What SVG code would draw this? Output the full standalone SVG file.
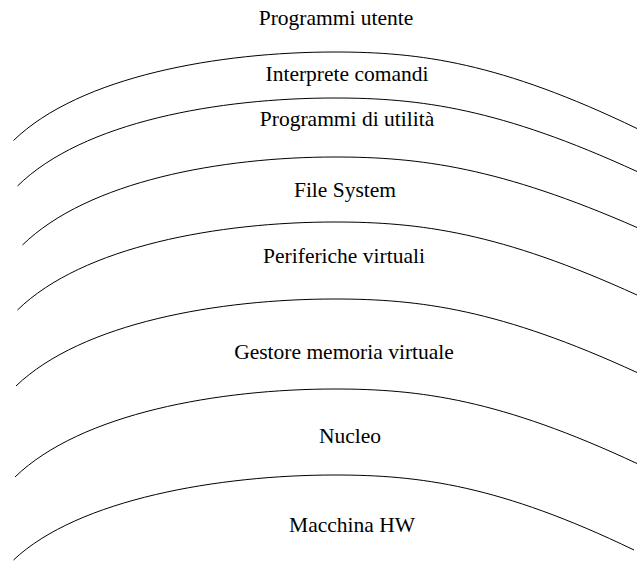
<svg xmlns="http://www.w3.org/2000/svg" width="637" height="561" viewBox="0 0 637 561">
  <defs>
    <style>
      .layer { fill: none; stroke: #000; stroke-width: 1; }
      .lbl { font-family: "Liberation Serif", "Times New Roman", serif; font-size: 21.5px; fill: #000; text-anchor: middle; }
    </style>
  </defs>
  <rect width="637" height="561" fill="#fff"/>
  <!-- layer boundaries: steep rise on the left, flat crest near x=335, gentler fall to the right -->
  <g id="connectors">
    <path class="layer" d="M 13.5 140.5 C 80 76, 220 52, 335 52 C 420 52, 500 62.5, 637 128.5"/>
    <path class="layer" d="M 17.5 186 C 83 121.5, 220 98, 335 98 C 420 98, 500 108.5, 637 171.5"/>
    <path class="layer" d="M 22.5 245 C 88 181, 222 157, 335 157 C 420 157, 500 167.5, 637 227.5"/>
    <path class="layer" d="M 17.5 310 C 83 246, 220 222, 335 222 C 420 222, 500 232.5, 637 295"/>
    <path class="layer" d="M 16 386 C 82 322.5, 220 299, 335 299 C 420 299, 500 309.5, 637 372.5"/>
    <path class="layer" d="M 15 477 C 81 413, 220 389, 335 389 C 420 389, 500 399.5, 637 463.5"/>
    <path class="layer" d="M 13.5 560 C 78 499, 220 475, 335 475 C 420 475, 500 485.5, 634 550"/>
  </g>
  <g id="programmi-utente"><text class="lbl" x="336" y="25">Programmi utente</text></g>
  <g id="interprete-comandi"><text class="lbl" x="347" y="81">Interprete comandi</text></g>
  <g id="programmi-utilita"><text class="lbl" x="347" y="126">Programmi di utilità</text></g>
  <g id="file-system"><text class="lbl" x="345" y="197">File System</text></g>
  <g id="periferiche-virtuali"><text class="lbl" x="344" y="263">Periferiche virtuali</text></g>
  <g id="gestore-memoria"><text class="lbl" x="344" y="359">Gestore memoria virtuale</text></g>
  <g id="nucleo"><text class="lbl" x="350" y="443">Nucleo</text></g>
  <g id="macchina-hw"><text class="lbl" x="352" y="532">Macchina HW</text></g>
</svg>
